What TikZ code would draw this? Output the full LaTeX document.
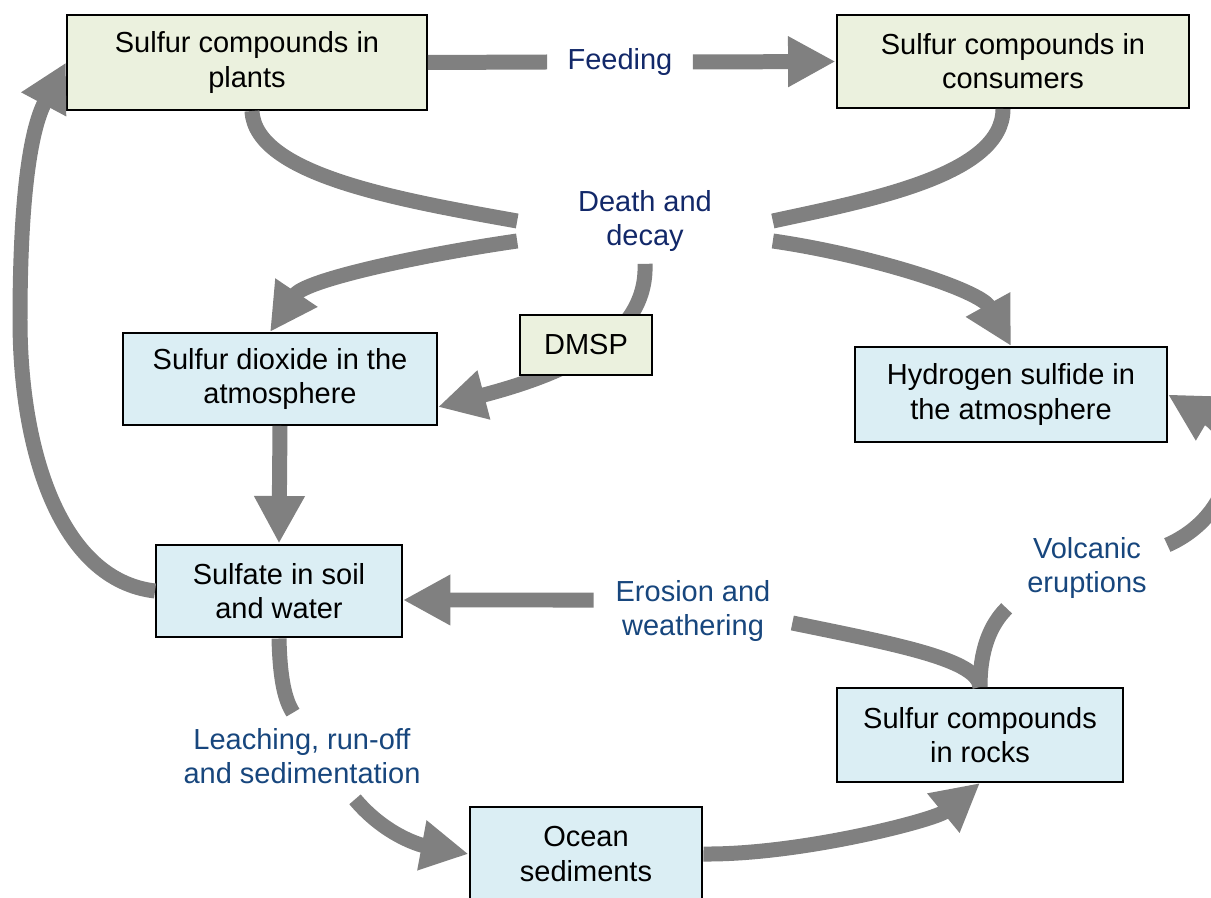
\documentclass[tikz,border=0pt]{standalone}
\usepackage{fontspec}
\setmainfont{Liberation Sans}
\usepackage{tikz}
\usetikzlibrary{arrows.meta, positioning}
\definecolor{vert}{RGB}{235,241,222}
\definecolor{bleuclair}{RGB}{219,238,244}
\definecolor{gris}{RGB}{128,128,128}
\definecolor{marine}{RGB}{18,40,105}
\definecolor{acier}{RGB}{23,70,125}

\begin{document}
\begin{tikzpicture}[x=0.02cm, y=-0.02cm, font=\fontsize{16.5}{19.4}\selectfont,
		boite/.style={draw, line width=0.04cm, align=center, minimum height=1.9cm},
		vertbox/.style={boite, fill=vert},
		bleubox/.style={boite, fill=bleuclair},
		etiq/.style={align=center, inner sep=0pt, text=acier},
		trait/.style={draw=gris, line width=0.3cm},
		flux/.style={trait, -{Triangle[length=0.95cm, width=0.95cm]}}]
	\useasboundingbox (0,0) rectangle (1211,898);
	\clip (0,0) rectangle (1211,898);
	
	% boites
	\node[vertbox, minimum width=7.2cm] (plants) at (247,62.5) {Sulfur compounds in\\plants};
	\node[vertbox, minimum width=7.06cm, minimum height=1.86cm] (consumers) at (1013,61.5) {Sulfur compounds in\\consumers};
	\node[bleubox, minimum width=6.28cm, minimum height=1.84cm] (so2) at (280,379) {Sulfur dioxide in the\\atmosphere};
	\node[bleubox, minimum width=6.24cm] (h2s) at (1011,394.5) {Hydrogen sulfide in\\the atmosphere};
	\node[bleubox, minimum width=4.92cm, minimum height=1.86cm] (sulfate) at (279,591) {Sulfate in soil\\and water};
	\node[bleubox, minimum width=5.72cm, minimum height=1.88cm] (rocks) at (980,735) {Sulfur compounds\\in rocks};
	\node[bleubox, minimum width=4.66cm] (ocean) at (586,854) {Ocean\\sediments};
	
	% etiquettes
	\node[etiq, text=marine, minimum width=2.9cm] (feed) at (620,62) {Feeding};
	\node[etiq, text=marine, minimum width=5.1cm, minimum height=1.7cm] (death) at (645,221) {Death and\\decay};
	\node[etiq, minimum width=3.96cm] (erosion) at (693,611) {Erosion and\\weathering};
	\node[etiq, minimum width=3.2cm, minimum height=1.6cm] (volcanic) at (1087,568) {Volcanic\\eruptions};
	\node[etiq, minimum height=1.72cm] (leach) at (302,756) {Leaching, run-off\\and sedimentation};
	
	% fleches
	\draw[trait] (plants.east) -- (feed.west);
	\draw[flux] (feed.east) -- (consumers.west);
	\draw[trait] ([xshift=0.1cm]plants.south) .. controls (255,175) and (400,200) .. (death.west);
	\draw[trait] ([xshift=-0.2cm]consumers.south) .. controls (1003,175) and (870,200) .. (death.east);
	\draw[flux] ([yshift=-0.4cm]death.west) .. controls (420,255) and (305,280) .. ([xshift=-0.2cm]so2.north);
	\draw[flux] ([yshift=-0.4cm]death.east) .. controls (870,255) and (980,290) .. (h2s.north);
	\draw[flux] (death.south) .. controls (648,340) and (560,375) .. ([yshift=-0.56cm]so2.east);
	\draw[flux] (so2.south) -- (sulfate.north);
	\draw[flux] (sulfate.west) .. controls (60,580) and (20,450) .. (20,320)
		.. controls (20,200) and (30,130) .. (plants.west);
	\draw[trait] (sulfate.south) .. controls (280,680) and (285,700) .. ([xshift=-0.18cm]leach.north);
	\draw[flux] ([xshift=1.06cm]leach.south) .. controls (385,835) and (420,845) .. (ocean.west);
	\draw[flux] (ocean.east) .. controls (800,855) and (935,820) .. (rocks.south);
	\draw[trait] (rocks.north) .. controls (978,660) and (900,645) .. ([yshift=-0.24cm]erosion.east);
	\draw[flux] ([yshift=0.22cm]erosion.west) -- ([yshift=-0.18cm]sulfate.east);
	\draw[trait] (rocks.north) .. controls (980,650) and (990,625) .. (volcanic.south west);
	\draw[flux] ([yshift=0.46cm]volcanic.east) .. controls (1235,515) and (1245,440) .. (h2s.east);
	
	\node[vertbox, minimum width=2.66cm, minimum height=1.2cm] (dmsp) at (586,345) {DMSP};
\end{tikzpicture}
\end{document}
